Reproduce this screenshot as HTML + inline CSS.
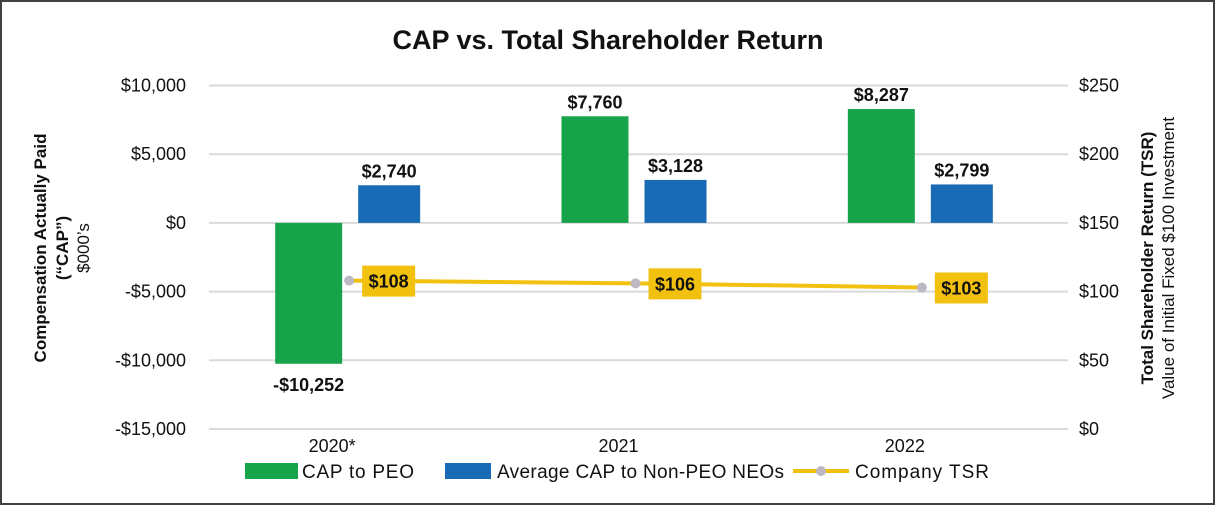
<!DOCTYPE html>
<html><head><meta charset="utf-8"><style>
body{margin:0;background:#fff;}
svg text{font-family:"Liberation Sans",Arial,sans-serif;}
</style></head><body>
<svg width="1216" height="506" xmlns="http://www.w3.org/2000/svg">
<rect x="1" y="1" width="1213" height="503" fill="#fff" stroke="#404040" stroke-width="2"/>
<text x="608" y="49" text-anchor="middle" font-size="27" font-weight="bold" fill="#111">CAP vs. Total Shareholder Return</text>
<g id="grid"></g><g id="bars"></g><g id="line"></g><g id="axes"></g>
<g transform="translate(46,248) rotate(-90)">
<text x="0" y="0" text-anchor="middle" font-size="17" font-weight="bold" fill="#111">Compensation Actually Paid</text>
<text x="0" y="22" text-anchor="middle" font-size="17" font-weight="bold" fill="#111">(“CAP”)</text>
<text x="0" y="43" text-anchor="middle" font-size="17" fill="#111">$000’s</text>
</g>
<g transform="translate(1153,258) rotate(-90)">
<text x="0" y="0" text-anchor="middle" font-size="17" font-weight="bold" fill="#111">Total Shareholder Return (TSR)</text>
<text x="0" y="21" text-anchor="middle" font-size="17" fill="#111">Value of Initial Fixed $100 Investment</text>
</g>
<g>
<rect x="245" y="463" width="53" height="16" fill="#16A34A"/>
<text x="302" y="478" font-size="19" fill="#111" textLength="112">CAP to PEO</text>
<rect x="445" y="463" width="46" height="16" fill="#1A6BB5"/>
<text x="497" y="478" font-size="19" fill="#111" textLength="287">Average CAP to Non-PEO NEOs</text>
<line x1="793" y1="471" x2="849" y2="471" stroke="#F2C10F" stroke-width="4"/>
<circle cx="821" cy="471" r="5" fill="#BDB8C3"/>
<text x="855" y="478" font-size="19" fill="#111" textLength="134">Company TSR</text>
</g>
</svg>
<script>
const categories=["2020*","2021","2022"];
const capPeo=[-10252,7760,8287];
const capPeoLabels=["-$10,252","$7,760","$8,287"];
const avgCap=[2740,3128,2799];
const avgCapLabels=["$2,740","$3,128","$2,799"];
const tsr=[108,106,103];
const tsrLabels=["$108","$106","$103"];
const leftTicks=[10000,5000,0,-5000,-10000,-15000];
const leftTickLabels=["$10,000","$5,000","$0","-$5,000","-$10,000","-$15,000"];
const rightTicks=[250,200,150,100,50,0];
const rightTickLabels=["$250","$200","$150","$100","$50","$0"];
const NS="http://www.w3.org/2000/svg";
const X0=209,X1=1068,Ytop=85.5,Ybot=429;
const yL=v=>Ybot-(v+15000)/25000*(Ybot-Ytop);
const yR=v=>Ybot-v/250*(Ybot-Ytop);
const band=(X1-X0)/categories.length;
const xc=i=>X0+band*(i+0.5);
function mk(tag,attrs,parent,txt){const e=document.createElementNS(NS,tag);for(const k in attrs)e.setAttribute(k,attrs[k]);if(txt!=null)e.textContent=txt;document.getElementById(parent).appendChild(e);return e;}
leftTicks.forEach((t,i)=>{
 const g=mk('line',{x1:X0,x2:X1,y1:yL(t),y2:yL(t),stroke:'#DADADA','stroke-width':2},'grid');
 
 
 const l=mk('text',{x:186,y:yL(t)+6,'text-anchor':'end','font-size':18,fill:'#111'},'axes',leftTickLabels[i]);
 
 
});
rightTicks.forEach((t,i)=>{
 const l=mk('text',{x:1079,y:yR(t)+6,'font-size':18,fill:'#111'},'axes',rightTickLabels[i]);
 
 
});
const bw=67,gap=16;
categories.forEach((c,i)=>{
 const cx=xc(i);
 const xl=mk('text',{x:cx-20,y:452,'text-anchor':'middle','font-size':18,fill:'#111'},'axes',c);
 
 
 const v=capPeo[i],y0=yL(0),yv=yL(v);
 const b=mk('rect',{x:cx-gap/2-bw-2,y:Math.min(y0,yv),width:bw,height:Math.abs(yv-y0),fill:'#16A34A'},'bars');
 
 
 const lt=mk('text',{x:cx-gap/2-bw/2-2,y:v<0?yv+27:yv-8,'text-anchor':'middle','font-size':18,'font-weight':'bold',fill:'#111'},'bars',capPeoLabels[i]);
 
 
 const a=avgCap[i],ya=yL(a);
 const b2=mk('rect',{x:cx+gap/2-2,y:ya,width:bw-5,height:y0-ya,fill:'#1A6BB5'},'bars');
 
 
 const lt2=mk('text',{x:cx+gap/2-2+(bw-5)/2,y:ya-8,'text-anchor':'middle','font-size':18,'font-weight':'bold',fill:'#111'},'bars',avgCapLabels[i]);
 
 
});
const pts=tsr.map((v,i)=>[xc(i)-3,yR(v)]);
const pl=mk('polyline',{points:pts.map(p=>p.join(',')).join(' '),fill:'none',stroke:'#F2C10F','stroke-width':4},'line');


pts.forEach((p,i)=>{
 const c=mk('circle',{cx:p[0],cy:p[1],r:5,fill:'#BDB8C3'},'line');
 
 
 const r=mk('rect',{x:p[0]+13,y:p[1]-15,width:53,height:31,fill:'#F2C10F'},'line');
 
 
 const t=mk('text',{x:p[0]+39.5,y:p[1]+7,'text-anchor':'middle','font-size':18,'font-weight':'bold',fill:'#111'},'line',tsrLabels[i]);
 
 
});
</script>
</body></html>
